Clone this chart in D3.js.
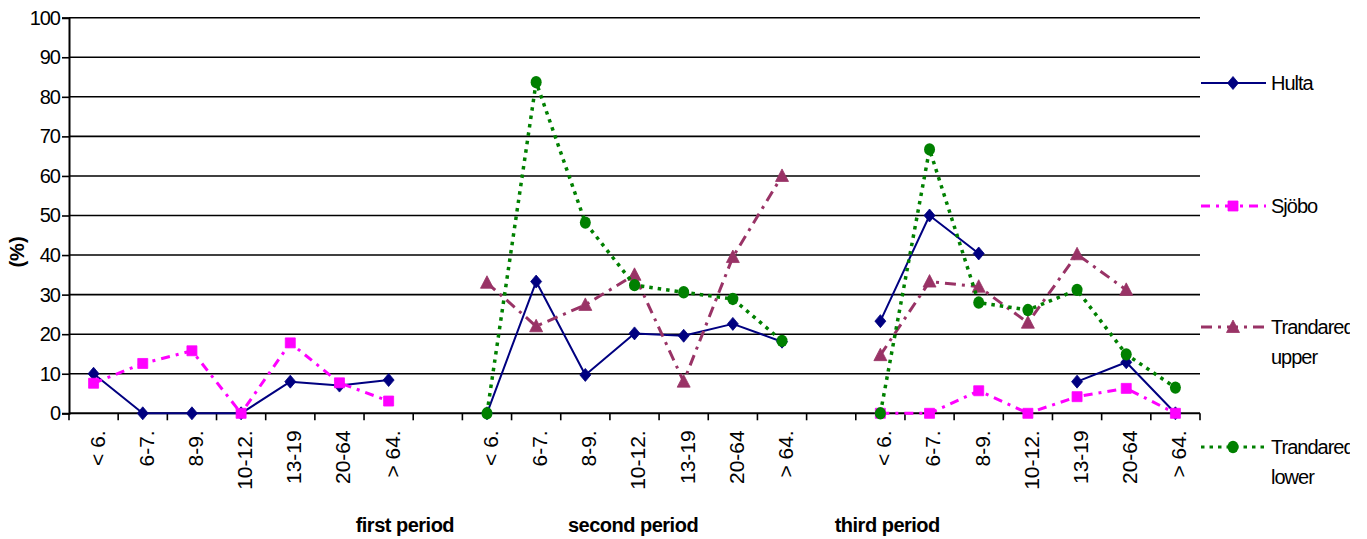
<!DOCTYPE html>
<html><head><meta charset="utf-8">
<script src="https://cdn.jsdelivr.net/npm/d3@7/dist/d3.min.js"></script>
<style>
html,body{margin:0;padding:0;background:#fff;}
svg{display:block;font-family:"Liberation Sans",Arial,sans-serif;}
</style></head>
<body>
<svg id="chart" width="1367" height="539"></svg>
<script>
// ---- data ----
const categories = ["< 6.", "6-7.", "8-9.", "10-12.", "13-19", "20-64", "> 64."];
const periods = ["first period", "second period", "third period"];
const yTicks = [0, 10, 20, 30, 40, 50, 60, 70, 80, 90, 100];
const seriesNames = ["Hulta", "Sjöbo", "Trandared upper", "Trandared lower"];
const hulta   = [10, 0, 0, 0, 8, 7, 8.4,   0, 33.3, 9.7, 20.2, 19.6, 22.6, 18.1,   23.3, 50, 40.4, null, 8, 12.9, 0];
const sjobo   = [7.6, 12.6, 15.8, 0, 17.8, 7.7, 3.1,   null, null, null, null, null, null, null,   0, 0, 5.7, 0, 4.2, 6.3, 0];
const trUpper = [null, null, null, null, null, null, null,   33, 22, 27.4, 35, 8, 39.5, 60,   14.7, 33.3, 32, 22.9, 40.2, 31.2, null];
const trLower = [null, null, null, null, null, null, null,   0, 83.7, 48.2, 32.4, 30.6, 28.9, 18.3,   0, 66.7, 28, 26.1, 31.2, 14.9, 6.5];

// ---- layout ----
const svg = d3.select("#chart");
const L = 69, R = 1200, T = 17.7, B = 413.3;
const nSlots = periods.length * (categories.length + 1) - 1; // 23 with gap slots
const slots = d3.range(nSlots);
const slotLabel = i => { const g = i % (categories.length + 1); return g < categories.length ? categories[g] : ""; };
const slotOf = (p, g) => p * (categories.length + 1) + g;

const x = d3.scaleBand().domain(slots).range([L, R]).padding(0);
const cx = i => x(i) + x.bandwidth() / 2;
const y = d3.scaleLinear().domain([0, 100]).range([B, T]);

// gridlines
svg.append("g").selectAll("line").data(yTicks.filter(t => t > 0)).join("line")
  .attr("x1", L).attr("x2", R).attr("y1", d => y(d)).attr("y2", d => y(d))
  .attr("stroke", "#000").attr("stroke-width", 1.6);

// y axis
const yAxis = svg.append("g").attr("transform", `translate(${L},0)`)
  .call(d3.axisLeft(y).tickValues(yTicks).tickSize(7).tickPadding(2));
yAxis.select(".domain").attr("stroke", "#000").attr("stroke-width", 2);
yAxis.selectAll(".tick line").attr("stroke", "#000").attr("stroke-width", 1.6);
yAxis.selectAll(".tick text").attr("font-size", 20).attr("letter-spacing", "-1px")
  .attr("fill", "#000").attr("font-family", "Liberation Sans, Arial, sans-serif");

// x axis: line + ticks between slots
svg.append("line").attr("x1", L).attr("x2", R).attr("y1", B).attr("y2", B)
  .attr("stroke", "#000").attr("stroke-width", 2);
svg.append("g").selectAll("line").data(d3.range(nSlots + 1)).join("line")
  .attr("x1", d => L + d * x.bandwidth()).attr("x2", d => L + d * x.bandwidth())
  .attr("y1", B).attr("y2", B + 7).attr("stroke", "#000").attr("stroke-width", 1.6);

// x labels
svg.append("g").selectAll("text").data(slots.filter(i => slotLabel(i) !== "")).join("text")
  .attr("transform", d => `translate(${cx(d)},${B + 17}) rotate(-90)`)
  .attr("text-anchor", "end").attr("dy", "0.52em")
  .attr("font-size", 21).attr("fill", "#000")
  .text(d => slotLabel(d));

// period labels
const periodAt = [6.83, 11.47, 16.64];
svg.append("g").selectAll("text").data(periods).join("text")
  .attr("x", (d, i) => L + periodAt[i] * x.bandwidth()).attr("y", 532)
  .attr("text-anchor", "middle").attr("font-size", 20).attr("font-weight", "bold")
  .attr("letter-spacing", "-0.5px").attr("fill", "#000")
  .text(d => d);

// y title
svg.append("text").attr("transform", "translate(24,252) rotate(-90)")
  .attr("text-anchor", "middle").attr("font-size", 20).attr("font-weight", "bold")
  .attr("fill", "#000").text("(%)");

// series
const markers = {
  diamond: "M0,-6.5L5.5,0L0,6.5L-5.5,0Z",
  square: "M-5,-5H5V5H-5Z",
  triangle: "M0,-7L6.5,5.5H-6.5Z",
  circle: null
};
const series = [
  { name: seriesNames[0], values: hulta,   color: "#000080", dash: null,      width: 2,   marker: "diamond" },
  { name: seriesNames[1], values: sjobo,   color: "#FF00FF", dash: "9,6,3,6", width: 3,   marker: "square" },
  { name: seriesNames[2], values: trUpper, color: "#993366", dash: "11,6,3,6", width: 3,  marker: "triangle" },
  { name: seriesNames[3], values: trLower, color: "#008000", dash: "3.5,5",   width: 3.5, marker: "circle" }
];

function drawMarker(g, s) {
  if (s.marker === "circle") {
    g.append("ellipse").attr("rx", 5.5).attr("ry", 6.2).attr("fill", s.color);
  } else {
    g.append("path").attr("d", markers[s.marker]).attr("fill", s.color)
      .attr("stroke", s.color).attr("stroke-width", 0.8);
  }
}

const line = d3.line().defined(d => d.v != null).x(d => cx(d.slot)).y(d => y(d.v));
series.forEach(s => {
  // one point per slot; gap slots carry null so lines break between periods
  const pts = slots.map(i => {
    const p = Math.floor(i / (categories.length + 1)), g = i % (categories.length + 1);
    const v = g < categories.length ? s.values[p * categories.length + g] : null;
    return { v, slot: i };
  });
  const g = svg.append("g");
  g.append("path").datum(pts).attr("d", line).attr("fill", "none")
    .attr("stroke", s.color).attr("stroke-width", s.width)
    .attr("stroke-dasharray", s.dash).attr("stroke-linejoin", "round");
  pts.filter(d => d.v != null).forEach(d => {
    const m = g.append("g").attr("transform", `translate(${cx(d.slot)},${y(d.v)})`);
    drawMarker(m, s);
  });
});

// legend (clipped at right like the reference)
svg.append("clipPath").attr("id", "legclip").append("rect")
  .attr("x", 1195).attr("y", 0).attr("width", 155).attr("height", 539);
const leg = svg.append("g").attr("clip-path", "url(#legclip)");
const legY = [83, 206, 327, 447];
series.forEach((s, i) => {
  const g = leg.append("g").attr("transform", `translate(0,${legY[i]})`);
  g.append("line").attr("x1", 1201).attr("x2", 1266).attr("y1", 0).attr("y2", 0)
    .attr("stroke", s.color).attr("stroke-width", s.width === 2 ? 2 : 3)
    .attr("stroke-dasharray", s.dash);
  const m = g.append("g").attr("transform", "translate(1233,0)");
  drawMarker(m, s);
  const words = s.name.split(" ");
  const t = g.append("text").attr("x", 1271).attr("y", 0).attr("font-size", 20)
    .attr("letter-spacing", "-1px").attr("fill", "#000");
  words.forEach((w, k) => {
    t.append("tspan").attr("x", 1271).attr("dy", k === 0 ? "0.35em" : "30px").text(w);
  });
});
</script>
</body></html>
